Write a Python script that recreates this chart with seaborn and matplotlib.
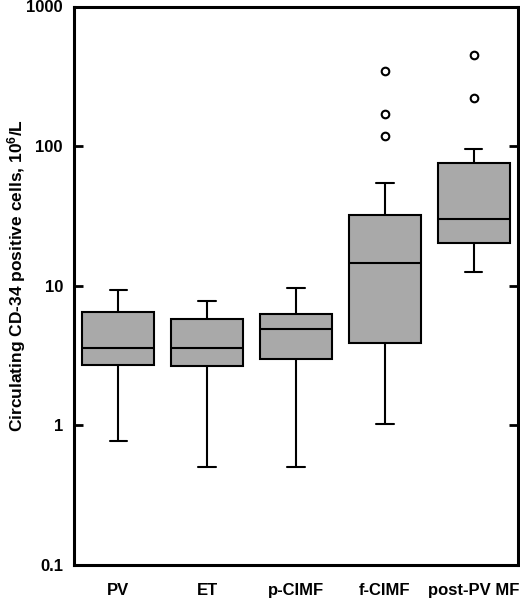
import numpy as np
import pandas as pd
import matplotlib
matplotlib.use("Agg")
import matplotlib.pyplot as plt
import seaborn as sns

categories = ["PV", "ET", "p-CIMF", "f-CIMF", "post-PV MF"]
whisker_low = [0.77, 0.50, 0.50, 1.03, 12.5]
q1 = [2.70, 2.65, 2.99, 3.90, 20.2]
median = [3.59, 3.59, 4.90, 14.5, 29.9]
q3 = [6.45, 5.78, 6.28, 32.1, 75.6]
whisker_high = [9.36, 7.8, 9.68, 54.7, 95.7]
outlier_cat = ["f-CIMF", "f-CIMF", "f-CIMF", "post-PV MF", "post-PV MF"]
outlier_val = [345, 171, 118.6, 449, 221]
y_ticks = [0.1, 1, 10, 100, 1000]
y_ticklabels = ["0.1", "1", "10", "100", "1000"]

sns.set_theme(style="white")
plt.rcParams['font.family'] = ['Liberation Sans', 'DejaVu Sans']
plt.rcParams['font.weight'] = 'bold'
plt.rcParams['mathtext.fontset'] = 'custom'
plt.rcParams['mathtext.rm'] = 'Liberation Sans:bold'
plt.rcParams['mathtext.bf'] = 'Liberation Sans:bold'
plt.rcParams['mathtext.default'] = 'bf'

rows = []
for c, lo, a, m, b, hi in zip(categories, whisker_low, q1, median, q3, whisker_high):
    for v in (lo, a, m, b, hi):
        rows.append({"group": c, "value": v})
df = pd.DataFrame(rows)
df_out = pd.DataFrame({"group": outlier_cat, "value": outlier_val})

fig = plt.figure(figsize=(5.2, 5.99), dpi=100)
ax = fig.add_axes([74/520, 1-565/599, 444/520, (565-6.5)/599])

sns.boxplot(data=df, x="group", y="value", order=categories, whis=(0, 100),
            width=0.81, color="#a9a9a9", saturation=1, linecolor="black",
            linewidth=1.5, fliersize=0, log_scale=True, ax=ax)
sns.scatterplot(data=df_out, x="group", y="value", ax=ax, marker="o",
                s=30, facecolor="white", edgecolor="black", linewidth=1.5,
                zorder=5, legend=False)

# shorten caps
for ln in ax.lines:
    xd = np.asarray(ln.get_xdata(), dtype=float)
    yd = np.asarray(ln.get_ydata(), dtype=float)
    if len(xd) == 2 and yd[0] == yd[1]:
        cx = xd.mean()
        half = abs(xd[1] - xd[0]) / 2
        if half < 0.3:
            ln.set_xdata([cx - 0.1, cx + 0.1])

ax.set_yscale("log")
ax.set_ylim(0.1, 1000)
ax.set_xlim(-0.5, 4.5)
ax.set_yticks(y_ticks)
ax.set_yticklabels(y_ticklabels, fontsize=12, fontweight="bold")
ax.yaxis.set_minor_locator(matplotlib.ticker.NullLocator())
ax.tick_params(axis="y", which="major", direction="in", length=6.5, width=2,
               left=True, right=True, labelleft=True, pad=8, colors="black")
ax.tick_params(axis="x", length=0, pad=13, labelsize=12, colors="black")
for lab in ax.get_xticklabels():
    lab.set_fontweight("bold")
ax.set_xlabel("")
ax.set_ylabel("Circulating CD-34 positive cells, 10$^{6}$/L",
              fontsize=12.5, fontweight="bold", color="black")
ax.yaxis.set_label_coords((5 - 74) / 444, (565 - 275.5) / 558.5)
ax.yaxis.label.set_verticalalignment("top")
for s in ax.spines.values():
    s.set_linewidth(2.2)
    s.set_color("black")
    s.set_visible(True)

fig.savefig("out.png", dpi=100)
